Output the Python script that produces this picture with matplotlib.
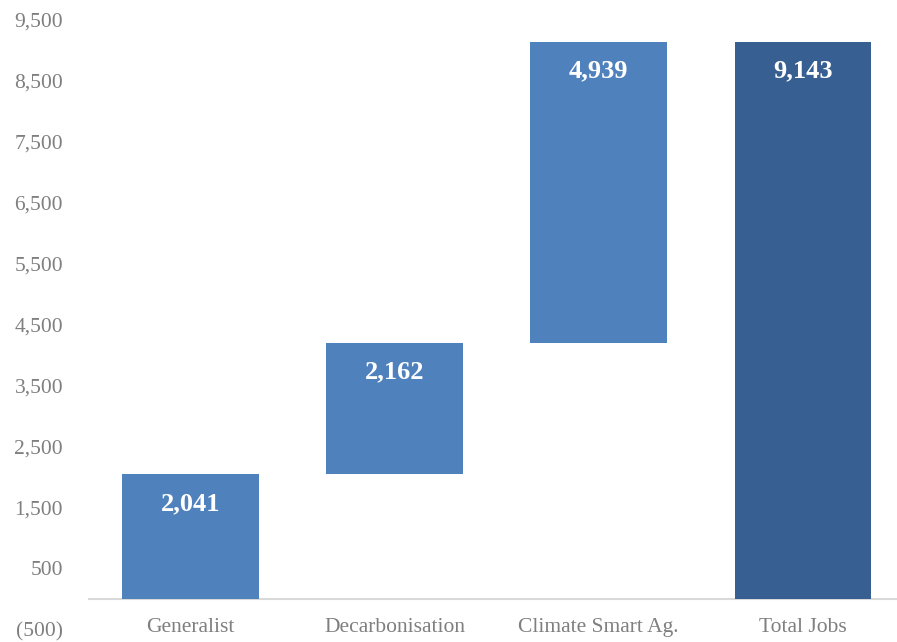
import numpy as np
import matplotlib
matplotlib.use("Agg")
import matplotlib.pyplot as plt

# data
categories = ["Generalist", "Decarbonisation", "Climate Smart Ag.", "Total Jobs"]
values = [2041, 2162, 4939, 9143]
is_total = [False, False, False, True]
yticks = [-500, 500, 1500, 2500, 3500, 4500, 5500, 6500, 7500, 8500, 9500]

plt.rcParams['font.family'] = ['Liberation Serif', 'DejaVu Serif']

fig = plt.figure(figsize=(8.97, 6.42), dpi=100)
ax = fig.add_axes([88/897, 13/642, 809/897, 609/642])

# waterfall bottoms
bottoms = []
running = 0
for v, t in zip(values, is_total):
	if t:
		bottoms.append(0)
	else:
		bottoms.append(running)
		running += v

colors = ['#375F91' if t else '#4F81BD' for t in is_total]
x = np.arange(len(categories))
bars = ax.bar(x, values, bottom=bottoms, width=0.67, color=colors, zorder=2)

for b, v in zip(bars, values):
	top = b.get_y() + b.get_height()
	ax.annotate(f"{v:,}", (b.get_x() + b.get_width()/2, top), xytext=(0, -21),
		textcoords='offset points', ha='center', va='center',
		color='white', fontsize=19, fontweight='bold')

ax.axhline(0, color='#d9d9d9', lw=1.5, zorder=1)

ax.set_xlim(-0.5, 3.46)
ax.set_ylim(-500, 9500)
ax.set_xticks([])
ax.set_yticks(yticks)
ax.set_yticklabels([f"({-t:,})" if t < 0 else f"{t:,}" for t in yticks])
ax.tick_params(axis='y', length=0, pad=18, labelsize=15.5, labelcolor='#7f7f7f')

for i, c in enumerate(categories):
	ax.text(i, -470, c, ha='center', va='center', fontsize=15.5, color='#7f7f7f')

for s in ax.spines.values():
	s.set_visible(False)

fig.savefig("out.png", dpi=100)
